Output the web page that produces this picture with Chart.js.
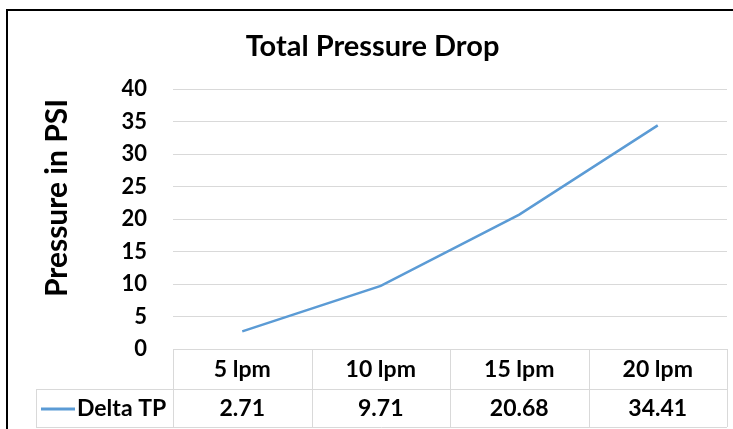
<!DOCTYPE html>
<html>
<head>
<meta charset="utf-8">
<script src="https://cdn.jsdelivr.net/npm/chart.js@4.4.1/dist/chart.umd.min.js"></script>
<style>
  html, body { margin: 0; padding: 0; background: #fff; }
  #wrap { width: 733px; height: 429px; position: relative; }
</style>
</head>
<body>
<div id="wrap"><canvas id="pressureChart" width="733" height="429"></canvas></div>
<script>
// data
const flowLabels = ["5 lpm", "10 lpm", "15 lpm", "20 lpm"];
const seriesName = "Delta TP";
const deltaTP = [2.71, 9.71, 20.68, 34.41];
const yTicks = [0, 5, 10, 15, 20, 25, 30, 35, 40];

const FONT = "Lato, 'Open Sans', sans-serif";
const LINE_COLOR = "#5B9BD5";
const GRID_COLOR = "#D9D9D9";

// draws outer frame, y-axis title and the data table under the plot
const tablePlugin = {
  id: "dataTable",
  beforeDraw(chart) {
    const ctx = chart.ctx;
    ctx.save();
    ctx.fillStyle = "#fff";
    ctx.fillRect(0, 0, chart.width, chart.height);
    ctx.restore();
  },
  afterDraw(chart) {
    const ctx = chart.ctx;
    const area = chart.chartArea;
    const xs = chart.scales.x;
    const colW = (area.right - area.left) / flowLabels.length;
    const row1Top = area.bottom;
    const row2Top = row1Top + 40;
    const row2Bot = row2Top + 38;
    const legendLeft = 36;

    ctx.save();
    // table lines
    ctx.strokeStyle = GRID_COLOR;
    ctx.lineWidth = 1;
    ctx.beginPath();
    ctx.moveTo(area.left, row1Top + 0.5);
    ctx.lineTo(area.right, row1Top + 0.5);
    ctx.moveTo(legendLeft, row2Top + 0.5);
    ctx.lineTo(area.right, row2Top + 0.5);
    ctx.moveTo(legendLeft, row2Bot + 0.5);
    ctx.lineTo(area.right, row2Bot + 0.5);
    ctx.moveTo(legendLeft + 0.5, row2Top);
    ctx.lineTo(legendLeft + 0.5, row2Bot);
    for (let i = 0; i <= flowLabels.length; i++) {
      const x = Math.round(area.left + i * colW) + 0.5;
      ctx.moveTo(x, row1Top);
      ctx.lineTo(x, row2Bot);
    }
    ctx.stroke();

    // cell text
    ctx.fillStyle = "#000";
    ctx.font = "bold 23px " + FONT;
    ctx.textAlign = "center";
    ctx.textBaseline = "middle";
    flowLabels.forEach((lab, i) => {
      const cx = xs.getPixelForValue(i);
      ctx.fillText(lab, cx, row1Top + 21);
      ctx.fillText(deltaTP[i].toFixed(2), cx, row2Top + 20);
    });

    // legend key
    ctx.strokeStyle = LINE_COLOR;
    ctx.lineWidth = 3;
    ctx.beginPath();
    ctx.moveTo(41, row2Top + 20);
    ctx.lineTo(75, row2Top + 20);
    ctx.stroke();
    ctx.textAlign = "left";
    ctx.fillText(seriesName, 77, row2Top + 20);

    // y axis title
    ctx.save();
    ctx.translate(57, 198);
    ctx.rotate(-Math.PI / 2);
    ctx.font = "bold 30px " + FONT;
    ctx.textAlign = "center";
    ctx.textBaseline = "middle";
    ctx.fillText("Pressure in PSI", 0, 0);
    ctx.restore();

    // outer frame
    ctx.strokeStyle = "#000";
    ctx.lineWidth = 2;
    ctx.strokeRect(7, 10, chart.width + 20, chart.height + 20);
    ctx.restore();
  }
};

const ctx = document.getElementById("pressureChart").getContext("2d");
const chart = new Chart(ctx, {
  type: "line",
  data: {
    labels: flowLabels,
    datasets: [{
      label: seriesName,
      data: deltaTP,
      borderColor: LINE_COLOR,
      borderWidth: 2.5,
      pointRadius: 0,
      tension: 0,
      fill: false
    }]
  },
  options: {
    responsive: false,
    animation: false,
    devicePixelRatio: 1,
    layout: {
      padding: { top: 10, left: 18, right: 6, bottom: 80 }
    },
    plugins: {
      legend: { display: false },
      tooltip: { enabled: false },
      title: {
        display: true,
        text: "Total Pressure Drop",
        color: "#000",
        font: { family: FONT, size: 29, weight: "bold", lineHeight: 1.2 },
        padding: { top: 19, bottom: 25.2 }
      }
    },
    scales: {
      x: {
        type: "category",
        offset: true,
        display: false
      },
      y: {
        min: 0,
        max: 40,
        afterFit: (scale) => { scale.width = 155; },
        afterBuildTicks: (scale) => { scale.ticks = yTicks.map(v => ({ value: v })); },
        border: { display: false },
        grid: {
          color: (c) => c.tick && c.tick.value === 0 ? "rgba(0,0,0,0)" : GRID_COLOR,
          drawTicks: false
        },
        ticks: {
          color: "#000",
          padding: 26,
          font: { family: FONT, size: 22, weight: "bold" }
        }
      }
    }
  },
  plugins: [tablePlugin]
});
</script>
</body>
</html>
